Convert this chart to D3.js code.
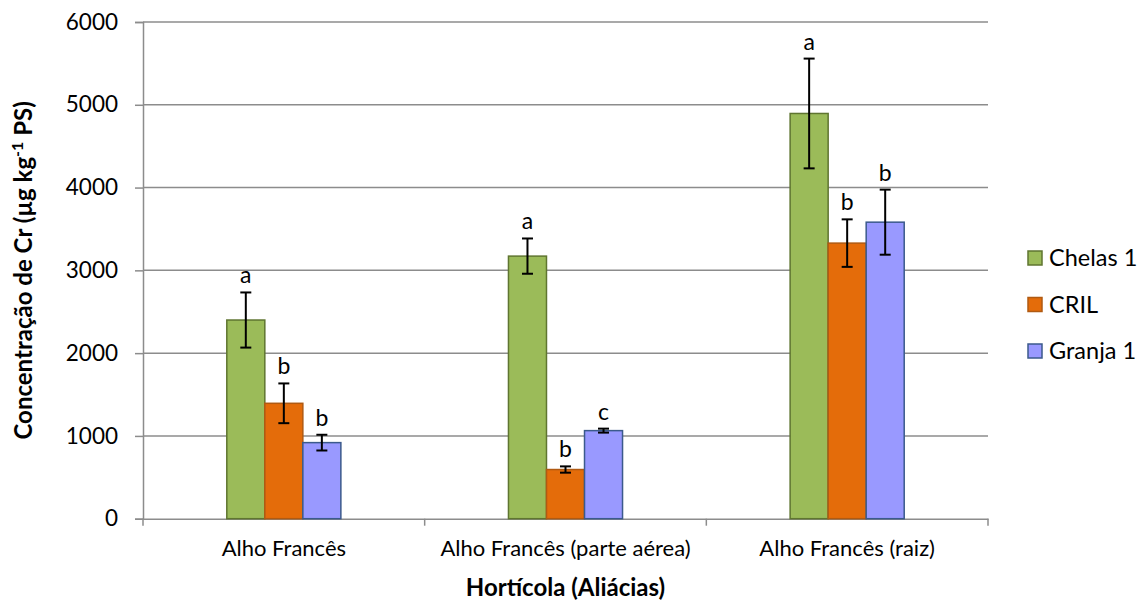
<!DOCTYPE html>
<html>
<head>
<meta charset="utf-8">
<script src="https://cdn.jsdelivr.net/npm/d3@7"></script>
<style>
  html, body { margin: 0; padding: 0; background: #fff; }
  svg { display: block; }
  text { font-family: Lato, "Open Sans", sans-serif; fill: #000; }
</style>
</head>
<body>
<svg id="chart" width="1145" height="602"></svg>
<script>
// ---- data ----
const categories = ["Alho Francês", "Alho Francês (parte aérea)", "Alho Francês (raiz)"];
const seriesNames = ["Chelas 1", "CRIL", "Granja 1"];
const chelasValues = [2400, 3172, 4895];
const crilValues   = [1394, 594, 3329];
const granjaValues = [919, 1064, 3582];
const chelasErrors = [333, 213, 663];
const crilErrors   = [240, 38, 287];
const granjaErrors = [95, 24, 393];
const chelasLetters = ["a", "a", "a"];
const crilLetters   = ["b", "b", "b"];
const granjaLetters = ["b", "c", "b"];
const yTicks = [0, 1000, 2000, 3000, 4000, 5000, 6000];
const xTitle = "Hortícola (Aliácias)";

// ---- styling ----
const fills   = ["#9BBB59", "#E46C0A", "#9999FF"];
const strokes = ["#5F7530", "#B05A12", "#3B5A8C"];
const gridColor = "#8C8C8C";

const valuesBySeries  = [chelasValues, crilValues, granjaValues];
const errorsBySeries  = [chelasErrors, crilErrors, granjaErrors];
const lettersBySeries = [chelasLetters, crilLetters, granjaLetters];

const rows = [];
categories.forEach((c, ci) => {
  seriesNames.forEach((s, si) => {
    rows.push({ cat: c, series: s, si, value: valuesBySeries[si][ci],
                err: errorsBySeries[si][ci], letter: lettersBySeries[si][ci] });
  });
});

const svg = d3.select("#chart");
const plot = { left: 143, right: 988, top: 22, bottom: 518.7 };

const y = d3.scaleLinear().domain([0, 6000]).range([plot.bottom, plot.top]);
const x0 = d3.scaleBand().domain(categories).range([plot.left, plot.right]).padding(0);
const groupW = x0.bandwidth() * 0.405;
const x1 = d3.scaleBand().domain(seriesNames)
  .range([(x0.bandwidth() - groupW) / 2, (x0.bandwidth() + groupW) / 2]).padding(0);

// gridlines
svg.append("g")
  .selectAll("line").data(yTicks.filter(t => t > 0)).join("line")
  .attr("x1", plot.left).attr("x2", plot.right)
  .attr("y1", d => y(d)).attr("y2", d => y(d))
  .attr("stroke", gridColor).attr("stroke-width", 1.5);

// y axis
const yAxis = svg.append("g").attr("transform", `translate(${plot.left},0)`)
  .call(d3.axisLeft(y).tickValues(yTicks).tickSize(8).tickPadding(17).tickFormat(d3.format("d")));
yAxis.select(".domain").attr("stroke", gridColor).attr("stroke-width", 1.5);
yAxis.selectAll(".tick line").attr("stroke", gridColor).attr("stroke-width", 1.5);
yAxis.selectAll(".tick text").attr("font-size", 22.5).attr("font-family", "Lato").attr("fill", "#000");

// x axis
const xAxis = svg.append("g").attr("transform", `translate(0,${plot.bottom})`)
  .call(d3.axisBottom(x0).tickSize(0).tickPadding(22));
xAxis.select(".domain").attr("stroke", gridColor).attr("stroke-width", 1.5);
xAxis.selectAll(".tick text").attr("font-size", 22).attr("font-family", "Lato").attr("fill", "#000");
// category boundary ticks
const boundaries = categories.map(c => x0(c)).concat([x0(categories[categories.length - 1]) + x0.bandwidth()]);
xAxis.selectAll("line.bound").data(boundaries).join("line").attr("class", "bound")
  .attr("x1", d => d).attr("x2", d => d).attr("y1", 0).attr("y2", 7)
  .attr("stroke", gridColor).attr("stroke-width", 1.5);

// bars
const bars = svg.append("g");
bars.selectAll("rect").data(rows).join("rect")
  .attr("x", d => x0(d.cat) + x1(d.series))
  .attr("y", d => y(d.value))
  .attr("width", x1.bandwidth())
  .attr("height", d => y(0) - y(d.value))
  .attr("fill", d => fills[d.si])
  .attr("stroke", d => strokes[d.si])
  .attr("stroke-width", 1.5);

// error bars
const errG = svg.append("g").attr("stroke", "#000").attr("stroke-width", 2);
const cx = d => x0(d.cat) + x1(d.series) + x1.bandwidth() / 2;
errG.selectAll("line.v").data(rows).join("line").attr("class", "v")
  .attr("x1", cx).attr("x2", cx)
  .attr("y1", d => y(d.value + d.err)).attr("y2", d => y(d.value - d.err));
errG.selectAll("line.t").data(rows).join("line").attr("class", "t")
  .attr("x1", d => cx(d) - 5.5).attr("x2", d => cx(d) + 5.5)
  .attr("y1", d => y(d.value + d.err)).attr("y2", d => y(d.value + d.err));
errG.selectAll("line.b").data(rows).join("line").attr("class", "b")
  .attr("x1", d => cx(d) - 5.5).attr("x2", d => cx(d) + 5.5)
  .attr("y1", d => y(d.value - d.err)).attr("y2", d => y(d.value - d.err));

// letters
svg.append("g").selectAll("text").data(rows).join("text")
  .attr("x", cx)
  .attr("y", d => y(d.value + d.err) - 9)
  .attr("text-anchor", "middle")
  .attr("font-size", 23)
  .text(d => d.letter);

// x title
svg.append("text")
  .attr("x", (plot.left + plot.right) / 2).attr("y", 596)
  .attr("text-anchor", "middle").attr("font-size", 24).attr("font-weight", "bold")
  .text(xTitle);

// y title with superscript
const yt = svg.append("text")
  .attr("transform", `translate(32,${(plot.top + plot.bottom) / 2}) rotate(-90)`)
  .attr("text-anchor", "middle").attr("font-size", 24).attr("font-weight", "bold");
yt.append("tspan").text("Concentração de Cr (µg kg");
yt.append("tspan").attr("dy", -9).attr("font-size", 16).text("-1");
yt.append("tspan").attr("dy", 9).text(" PS)");

// legend
const leg = svg.append("g").attr("transform", "translate(1028,251)");
const li = leg.selectAll("g").data(seriesNames).join("g")
  .attr("transform", (d, i) => `translate(0,${i * 46.5})`);
li.append("rect").attr("width", 14).attr("height", 14)
  .attr("fill", (d, i) => fills[i]).attr("stroke", (d, i) => strokes[i]).attr("stroke-width", 1.5);
li.append("text").attr("x", 21).attr("y", 15).attr("font-size", 23.5).text(d => d);
</script>
</body>
</html>
